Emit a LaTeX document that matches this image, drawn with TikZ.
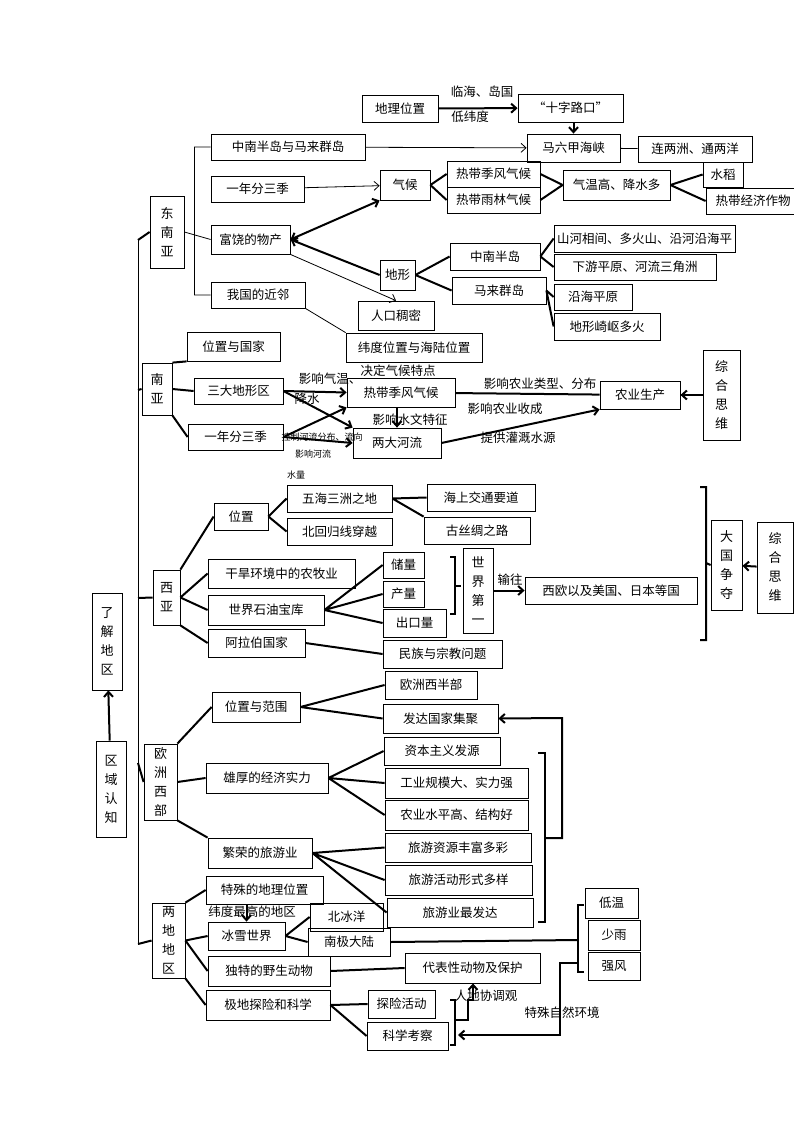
\documentclass[tikz,border=0pt]{standalone}
\usepackage{fontspec}
\setmainfont{Noto Sans CJK SC}
\usetikzlibrary{arrows.meta}
\newcommand\bx[6]{\node[box,minimum width=#4pt-#2pt,minimum height=#5pt-#3pt] (#1) at ({(#2+#4)/2},{(#3+#5)/2}) {#6};}
\newcommand\vbx[6]{\node[box,align=center,minimum width=#4pt-#2pt,minimum height=#5pt-#3pt,font=\fontsize{13}{19}\selectfont] (#1) at ({(#2+#4)/2},{(#3+#5)/2}) {#6};}
\tikzset{box/.style={draw,line width=0.8pt,inner sep=1pt,font=\fontsize{12.5}{14}\selectfont},
 tk/.style={line width=2pt},
 tn/.style={line width=0.8pt},
 ar/.style={-{Straight Barb[length=5pt,width=9pt]}},
 lb/.style={font=\fontsize{12.5}{14}\selectfont,inner sep=0pt},
 sl/.style={font=\fontsize{9}{10}\selectfont,inner sep=0pt}}
\begin{document}
\begin{tikzpicture}[x=1pt,y=-1pt]
\useasboundingbox (0,0) rectangle (794,1123);
% top
\bx{dlwz}{362}{95}{438}{122}{地理位置}
\bx{szlk}{518}{94}{623}{122}{“十字路口”}
\bx{mlj}{527}{134}{620}{162}{马六甲海峡}
\bx{llz}{638}{136}{752}{162}{连两洲、通两洋}
\bx{znmq}{211}{134}{365}{160}{中南半岛与马来群岛}
\bx{ynfs}{211}{176}{304}{202}{一年分三季}
\bx{qh}{380}{170}{430}{200}{气候}
\bx{rdjf}{447}{161}{540}{187}{热带季风气候}
\bx{rdyl}{447}{187}{540}{213}{热带雨林气候}
\bx{qwg}{563}{170}{670}{200}{气温高、降水多}
\bx{sd}{703}{162}{743}{187}{水稻}
\bx{rdjj}{706}{188}{800}{214}{热带经济作物}
\bx{frwc}{211}{225}{290}{254}{富饶的物产}
\bx{dx}{380}{260}{415}{290}{地形}
\bx{znbd}{450}{243}{540}{270}{中南半岛}
\bx{mlqd}{452}{277}{546}{304}{马来群岛}
\bx{shx}{554}{225}{735}{252}{山河相间、多火山、沿河沿海平}
\bx{xypy}{554}{254}{716}{280}{下游平原、河流三角洲}
\bx{yhpy}{554}{284}{632}{310}{沿海平原}
\bx{dxqq}{554}{313}{660}{340}{地形崎岖多火}
\bx{rkcm}{358}{301}{434}{330}{人口稠密}
\bx{wgjl}{211}{282}{305}{308}{我国的近邻}
\bx{wdwz}{346}{333}{482}{362}{纬度位置与海陆位置}
\vbx{dny}{150}{196}{184}{268}{东\\南\\亚}
\node[lb] at (482,92) {临海、岛国};
\node[lb] at (470,117) {低纬度};
\draw[tk,ar] (dlwz) -- (szlk);
\draw[tk,ar] (szlk.south-|mlj) -- (mlj);
\draw[tn] (mlj) -- (llz);
\draw[tn,ar] (znmq) -- (mlj);
\draw[tn,ar] (ynfs) -- (qh);
\draw[tk] (qh.east) -- (rdjf.west) (qh.east) -- (rdyl.west);
\draw[tk] (rdjf.east) -- (qwg.west) (rdyl.east) -- (qwg.west);
\draw[tk] (qwg.east) -- (sd.west) (qwg.east) -- (rdjj.west);
\draw[tk,{Straight Barb[length=5pt,width=9pt]}-{Straight Barb[length=5pt,width=9pt]}] (frwc.east) -- (qh.south west);
\draw[tk,ar] (dx.west) -- (frwc.east);
\draw[tk] (dx.east) -- (znbd.west) (dx.east) -- (mlqd.west);
\draw[tk] (znbd.east) -- (shx.west) (znbd.east) -- (xypy.west);
\draw[tk] (mlqd.east) -- (yhpy.west) (mlqd.east) -- (dxqq.west);
\draw[tn,ar] (frwc.south east) -- (rkcm.north);
\draw[tn] (wgjl.south east) -- (wdwz.north west);
\draw[tn] (194,147) -- (194,295);
\draw[tn] (194,147) -- (znmq.west) (dny.east) -- (frwc.west) (194,295) -- (wgjl.west);
% South Asia
\vbx{ny}{142}{363}{172}{415}{南\\亚}
\bx{wzgj}{187}{332}{280}{361}{位置与国家}
\bx{sdx}{194}{378}{283}{404}{三大地形区}
\bx{ynfs2}{188}{424}{283}{450}{一年分三季}
\bx{rdjf2}{347}{378}{455}{407}{热带季风气候}
\bx{ldhl}{353}{428}{441}{458}{两大河流}
\bx{nysc}{600}{381}{680}{409}{农业生产}
\vbx{zhsw}{703}{350}{740}{440}{综\\合\\思\\维}
\draw[tk] (ny.north east) -- (wzgj.south west) (ny.east) -- (sdx.west) (ny.south east) -- (ynfs2.west);
\draw[tk,ar] (sdx.east) -- (rdjf2.west);
\draw[tk,ar] (sdx.east) -- (ldhl.north west);
\draw[tk,ar] (ynfs2.east) -- (rdjf2.south west);
\draw[tk,ar] (ynfs2.east) -- (ldhl.west);
\draw[tk,ar] (rdjf2.south-|ldhl) -- (ldhl.north);
\draw[tk] (rdjf2) -- (nysc);
\draw[tk,ar] (ldhl.east) -- (nysc.south west);
\draw[tk,ar] (zhsw) -- (nysc);
\node[lb] at (330,379) {影响气温、};
\node[lb] at (307,399) {降水};
\node[lb] at (398,371) {决定气候特点};
\node[lb] at (410,420) {影响水文特征};
\node[sl] at (322,437) {控制河流分布、流向};
\node[sl] at (313,454) {影响河流};
\node[sl] at (296,475) {水量};
\node[lb] at (540,384) {影响农业类型、分布};
\node[lb] at (505,409) {影响农业收成};
\node[lb] at (518,438) {提供灌溉水源};
% West Asia
\vbx{xy}{153}{570}{180}{625}{西\\亚}
\bx{wz}{214}{503}{268}{530}{位置}
\bx{wh}{287}{485}{392}{512}{五海三洲之地}
\bx{bhg}{287}{518}{392}{545}{北回归线穿越}
\bx{hsjt}{427}{484}{535}{511}{海上交通要道}
\bx{gscl}{424}{517}{530}{544}{古丝绸之路}
\bx{ghhj}{208}{559}{355}{588}{干旱环境中的农牧业}
\bx{sjsy}{208}{595}{324}{625}{世界石油宝库}
\bx{albg}{208}{629}{305}{657}{阿拉伯国家}
\bx{cl}{383}{552}{424}{578}{储量}
\bx{cl2}{383}{581}{424}{607}{产量}
\bx{ckl}{383}{609}{446}{637}{出口量}
\bx{mzzj}{383}{640}{502}{668}{民族与宗教问题}
\vbx{sjdy}{463}{548}{493}{633}{世\\界\\第\\一}
\bx{xo}{525}{577}{697}{604}{西欧以及美国、日本等国}
\vbx{dgzd}{711}{520}{742}{610}{大\\国\\争\\夺}
\vbx{zhsw2}{757}{522}{793}{613}{综\\合\\思\\维}
\draw[tk] (xy.north east) -- (wz.west) (xy.east) -- (ghhj.west) (xy.east) -- (sjsy.west) (xy.south east) -- (albg.west);
\draw[tk] (wz.east) -- (wh.west) (wz.east) -- (bhg.west);
\draw[tk] (wh.east) -- (hsjt.west) (wh.east) -- (gscl.north west);
\draw[tk] (sjsy.east) -- (cl.west) (sjsy.east) -- (cl2.west) (sjsy.east) -- (ckl.west);
\draw[tk] (albg.east) -- (mzzj.west);
\draw[tk] (450,557) -- (455,557) -- (455,614) -- (450,614) (455,586) -- (461,586);
\draw[tk,ar] (sjdy.east|-xo) -- (xo.west);
\node[lb] at (510,580) {输往};
\draw[tk] (700,487) -- (706,487) -- (706,640) -- (700,640) (706,563) -- (dgzd.west);
\draw[tk,ar] (zhsw2) -- (dgzd);
% left
\vbx{ljdq}{92}{593}{122}{690}{了\\解\\地\\区}
\vbx{qyrz}{96}{741}{126}{837}{区\\域\\认\\知}
\draw[tk,ar] (qyrz) -- (ljdq);
\draw[tn] (138,240) -- (138,944);
\draw[tk] (138,240) -- (dny.west) (138,390) -- (ny.west) (138,598) -- (xy.west);
% Europe
\vbx{ozxb}{144}{744}{177}{820}{欧\\洲\\西\\部}
\bx{wzfw}{212}{692}{300}{722}{位置与范围}
\bx{xhjj}{206}{763}{328}{793}{雄厚的经济实力}
\bx{frly}{208}{838}{312}{868}{繁荣的旅游业}
\bx{ozxbb}{385}{671}{477}{699}{欧洲西半部}
\bx{fdgj}{383}{704}{498}{733}{发达国家集聚}
\bx{zbzy}{384}{737}{500}{765}{资本主义发源}
\bx{gygm}{385}{768}{528}{798}{工业规模大、实力强}
\bx{nysp}{385}{800}{528}{830}{农业水平高、结构好}
\bx{lyzy}{385}{833}{531}{862}{旅游资源丰富多彩}
\bx{lyhd}{385}{865}{532}{895}{旅游活动形式多样}
\bx{lyzf}{387}{898}{533}{927}{旅游业最发达}
\draw[tk] (138,763) -- (ozxb.west);
\draw[tk] (ozxb.north east) -- (wzfw.west) (ozxb.east) -- (xhjj.west) (ozxb.south east) -- (frly.north west);
\draw[tk] (wzfw.east) -- (ozxbb.west) (wzfw.east) -- (fdgj.west);
\draw[tk] (xhjj.east) -- (zbzy.west) (xhjj.east) -- (gygm.west) (xhjj.east) -- (nysp.west);
\draw[tk] (frly.east) -- (lyzy.west) (frly.east) -- (lyhd.west) (frly.east) -- (lyzf.west);
\draw[tk] (538,753) -- (545,753) -- (545,922) -- (538,922);
\draw[tk,ar] (545,838) -- (562,838) -- (562,718) -- (fdgj.east);
% Polar
\vbx{ldq}{152}{903}{185}{978}{两\\地\\地\\区}
\bx{tsdl}{206}{876}{323}{904}{特殊的地理位置}
\bx{bxsj}{208}{922}{285}{950}{冰雪世界}
\bx{bby}{310}{903}{383}{931}{北冰洋}
\bx{njdl}{308}{928}{390}{956}{南极大陆}
\bx{dtys}{208}{956}{330}{986}{独特的野生动物}
\bx{dbx}{405}{953}{540}{983}{代表性动物及保护}
\bx{jdtx}{206}{990}{330}{1020}{极地探险和科学}
\bx{txhd}{368}{990}{435}{1018}{探险活动}
\bx{kxkc}{367}{1022}{448}{1050}{科学考察}
\bx{dw}{585}{888}{638}{918}{低温}
\bx{sy}{588}{920}{640}{950}{少雨}
\bx{qf}{588}{952}{640}{980}{强风}
\node[lb] at (252,912) {纬度最高的地区};
\draw[tk] (138,944) -- (ldq.west);
\draw[tk] (ldq.north east) -- (tsdl.west) (ldq.east) -- (bxsj.west) (ldq.east) -- (dtys.west) (ldq.south east) -- (jdtx.west);
\draw[tk,ar] (tsdl.south-|bxsj) -- (bxsj.north);
\draw[tk] (bxsj.east) -- (bby.west) (bxsj.east) -- (njdl.west);
\draw[tk] (dtys.east) -- (dbx.west);
\draw[tk] (jdtx.east) -- (txhd.west) (jdtx.east) -- (kxkc.west);
\draw[tk] (584,905) -- (578,905) -- (578,972) -- (584,972);
\draw[tk] (njdl.east) -- (578,940);
\draw[tk,ar] (578,963) -- (560,963) -- (560,1035) -- (458,1035);
\draw[tk] (450,1000) -- (455,1000) -- (455,1045) -- (450,1045);
\draw[tk,ar] (455,1020) -- (468,1020) -- (468,1000) -- (473,1000) -- (dbx.south-|473,0);
\node[lb] at (486,996) {人地协调观};
\node[lb] at (562,1013) {特殊自然环境};
\end{tikzpicture}
\end{document}
